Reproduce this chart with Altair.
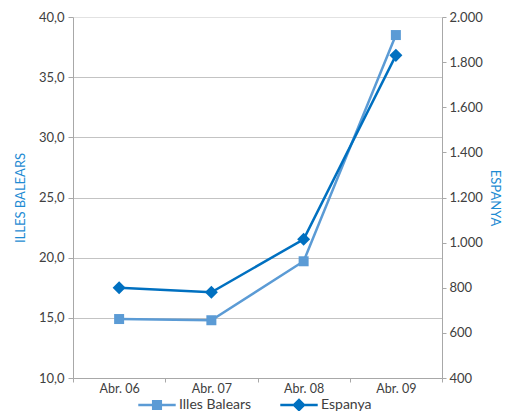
import altair as alt
import pandas as pd

periods = ["Abr. 06", "Abr. 07", "Abr. 08", "Abr. 09"]
illes_balears = [14.9, 14.8, 19.7, 38.5]
espanya = [800, 780, 1015, 1830]
series = ["Illes Balears", "Espanya"]
colors = ["#5b9bd5", "#0070c0"]

df_ib = pd.DataFrame({"periode": periods, "valor": illes_balears, "serie": series[0]})
df_es = pd.DataFrame({"periode": periods, "valor": espanya, "serie": series[1]})

FONT = "Lato"
GRID = "#c3c3c3"
AXIS = "#a8a8a8"
TEXT = "#404040"
TITLE = "#1e8bd3"

SQ_PATH = "M-1,-0.07H1V0.07H-1Z M-0.27,-0.27H0.27V0.27H-0.27Z"
DI_PATH = "M-1,-0.07H1V0.07H-1Z M0,-0.36L0.36,0L0,0.36L-0.36,0Z"

x_enc = alt.X(
    "periode:N", sort=periods, bandPosition=0.5,
    scale=alt.Scale(type="band", paddingInner=0, paddingOuter=0),
    axis=alt.Axis(title=None, tickBand="extent", labelAngle=0, domainColor=AXIS,
                  tickColor=AXIS, tickSize=4, labelPadding=0, labelFontSize=12.5, grid=False),
)


def color_enc(name, col, path, lx):
    return alt.Color(
        "serie:N",
        scale=alt.Scale(domain=[name], range=[col]),
        legend=alt.Legend(
            title=None, orient="none", direction="horizontal", legendX=lx, legendY=369,
            labelFontSize=14, labelColor=TEXT, labelFont=FONT, symbolSize=1400,
            labelOffset=3, symbolType=path, symbolFillColor=col, symbolStrokeColor=col,
            symbolStrokeWidth=0, symbolOpacity=1,
        ),
    )


y_left = alt.Y(
    "valor:Q",
    scale=alt.Scale(domain=[10, 40], nice=False, zero=False),
    axis=alt.Axis(
        title="ILLES BALEARS", titleColor=TITLE, titleFont=FONT, titleFontSize=13,
        titleFontWeight="normal", titlePadding=11,
        values=[10, 15, 20, 25, 30, 35, 40],
        labelExpr="replace(format(datum.value, '.1f'), '.', ',')",
        labelFont=FONT, labelFontSize=13, labelColor=TEXT, labelPadding=4,
        domainColor=AXIS, tickColor=AXIS, tickSize=5,
        grid=True, gridColor={"condition": {"test": "datum.value === 40", "value": "#e2e2e2"}, "value": GRID},
    ),
)

y_right = alt.Y(
    "valor:Q",
    scale=alt.Scale(domain=[400, 2000], nice=False, zero=False),
    axis=alt.Axis(
        orient="right",
        title="ESPANYA", titleColor=TITLE, titleFont=FONT, titleFontSize=13,
        titleFontWeight="normal", titlePadding=5,
        values=[400, 600, 800, 1000, 1200, 1400, 1600, 1800, 2000],
        labelExpr="replace(format(datum.value, ','), ',', '.')",
        labelFont=FONT, labelFontSize=13, labelColor=TEXT, labelPadding=3,
        domainColor=AXIS, tickColor=AXIS, tickSize=4, grid=False,
    ),
)

base_ib = alt.Chart(df_ib).encode(x=x_enc, y=y_left, color=color_enc(series[0], colors[0], SQ_PATH, 65))
base_es = alt.Chart(df_es).encode(x=x_enc, y=y_right, color=color_enc(series[1], colors[1], DI_PATH, 207))

ib = alt.layer(
    base_ib.mark_line(strokeWidth=2.5),
    base_ib.mark_point(filled=True, size=100, opacity=1, shape="square"),
)
es = alt.layer(
    base_es.mark_line(strokeWidth=2.5),
    base_es.mark_point(filled=True, size=170, opacity=1, shape="diamond"),
)

chart = alt.layer(ib, es).resolve_scale(y="independent", color="independent").properties(
    width=369, height=361,
    autosize=alt.AutoSizeParams(type="none"),
    padding={"left": 65, "top": 9, "right": 62, "bottom": 33},
).configure_view(stroke=None).configure_axis(
    labelFont=FONT, labelColor=TEXT
)

chart.save("out.html", embed_options={"renderer": "svg", "actions": False})
